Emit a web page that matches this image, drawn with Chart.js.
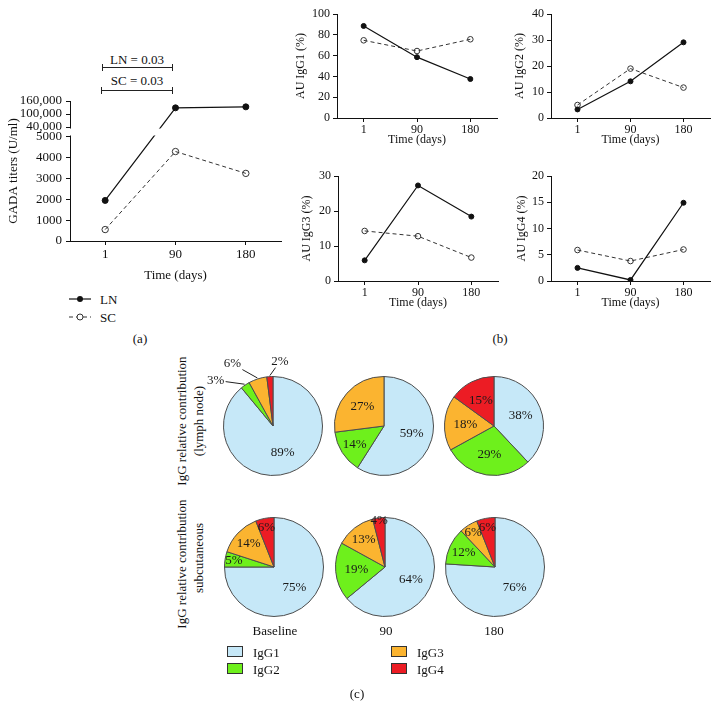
<!DOCTYPE html>
<html lang="en">
<head>
  <meta charset="UTF-8" />
  <title>GADA titers and IgG subclasses</title>
  <script src="https://cdn.jsdelivr.net/npm/chart.js"></script>
  <style>
    * { box-sizing: border-box; }
    body { margin: 0; background: #fff; font-family: "Liberation Serif", "Times New Roman", serif; color: #111; }
    #page { position: relative; width: 718px; height: 720px; overflow: hidden; background: #fff; }
    canvas { position: absolute; }
    .t { position: absolute; transform: translate(-50%, -50%); white-space: nowrap; font-size: 13px; line-height: 1; }
    .l { position: absolute; transform: translateY(-50%); white-space: nowrap; font-size: 13px; line-height: 1; }
    .v { position: absolute; transform: translate(-50%, -50%) rotate(-90deg); white-space: nowrap; font-size: 13px; line-height: 1; }
    .bar { position: absolute; height: 0; border-top: 1px solid #222; }
    .bar::before, .bar::after { content: ""; position: absolute; top: -4px; height: 7px; border-left: 1px solid #222; }
    .bar::before { left: 0; }
    .bar::after { right: 0; }
    .sq { position: absolute; width: 16px; height: 11px; border: 1px solid #333; }
  </style>
</head>
<body>
<div id="page">
  <!-- (a) -->
  <div class="t" style="left:137px; top:59px">LN = 0.03</div>
  <div class="bar" style="left:102px; top:67px; width:71px"></div>
  <div class="t" style="left:137px; top:80px">SC = 0.03</div>
  <div class="bar" style="left:101px; top:90px; width:72px"></div>
  <canvas id="gada"></canvas>
  <svg style="position:absolute; left:66px; top:290px" width="30" height="34">
    <line x1="3" y1="9" x2="25" y2="9" stroke="#111" stroke-width="1.2" />
    <circle cx="14" cy="9" r="3" fill="#111" />
    <line x1="3" y1="27" x2="25" y2="27" stroke="#333" stroke-width="1" stroke-dasharray="4 3" />
    <circle cx="14" cy="27" r="3" fill="#fff" stroke="#333" stroke-width="1" />
  </svg>
  <div class="l" style="left:100px; top:299px">LN</div>
  <div class="l" style="left:100px; top:317px">SC</div>
  <div class="t" style="left:140px; top:338px">(a)</div>

  <!-- (b) -->
  <canvas id="igg1"></canvas>
  <canvas id="igg2"></canvas>
  <canvas id="igg3"></canvas>
  <canvas id="igg4"></canvas>
  <div class="t" style="left:500px; top:338px">(b)</div>

  <!-- (c) -->
  <div class="v" style="left:181px; top:421px">IgG relative contribution</div>
  <div class="v" style="left:198px; top:421px">(lymph node)</div>
  <div class="v" style="left:181px; top:564px">IgG relative contribution</div>
  <div class="v" style="left:198px; top:558px">subcutaneous</div>
  <canvas id="pLN0"></canvas>
  <canvas id="pLN1"></canvas>
  <canvas id="pLN2"></canvas>
  <canvas id="pSC0"></canvas>
  <canvas id="pSC1"></canvas>
  <canvas id="pSC2"></canvas>
  <div class="t" style="left:275px; top:630px">Baseline</div>
  <div class="t" style="left:386px; top:630px">90</div>
  <div class="t" style="left:494px; top:630px">180</div>
  <div class="sq" style="left:227px; top:646px; background:#c6e8f8"></div>
  <div class="l" style="left:253px; top:652px">IgG1</div>
  <div class="sq" style="left:227px; top:663px; background:#6ef01c"></div>
  <div class="l" style="left:253px; top:669px">IgG2</div>
  <div class="sq" style="left:391px; top:646px; background:#fbb430"></div>
  <div class="l" style="left:417px; top:652px">IgG3</div>
  <div class="sq" style="left:391px; top:663px; background:#ec1c24"></div>
  <div class="l" style="left:417px; top:669px">IgG4</div>
  <div class="t" style="left:357px; top:693px">(c)</div>
</div>

<script>
  // ---- data ----
  const days = ['1', '90', '180'];

  const gadaTicks = [0, 1000, 2000, 3000, 4000, 5000, 40000, 100000, 160000];
  const gadaTickLabels = ['0', '1000', '2000', '3000', '4000', '5000', '40,000', '100,000', '160,000'];
  const gadaLN = [1950, 128500, 133000];
  const gadaSC = [550, 4300, 3250];

  const igg1LN = [88.5, 58.5, 37.5];
  const igg1SC = [74.7, 64.4, 75.7];
  const igg2LN = [3.3, 14.1, 29.1];
  const igg2SC = [5, 19, 11.7];
  const igg3LN = [5.9, 27.3, 18.4];
  const igg3SC = [14.3, 12.8, 6.7];
  const igg4LN = [2.5, 0.2, 14.9];
  const igg4SC = [5.9, 3.8, 6];

  const subclasses = ['IgG1', 'IgG2', 'IgG3', 'IgG4'];
  const pieLNBaseline = [89, 3, 6, 2];
  const pieLN90 = [59, 14, 27, 0];
  const pieLN180 = [38, 29, 18, 15];
  const pieSCBaseline = [75, 5, 14, 6];
  const pieSC90 = [64, 19, 13, 4];
  const pieSC180 = [76, 12, 6, 6];

  // ---- style ----
  const serif = '"Liberation Serif", "Times New Roman", serif';
  const pieColors = ['#c6e8f8', '#6ef01c', '#fbb430', '#ec1c24'];
  Chart.defaults.font.family = serif;
  Chart.defaults.color = '#111';

  // y axis with a break between 5000 and 40,000
  const dLow = 0.743, dHigh = 0.814;
  function breakDecimal(v) {
    if (v <= 5000) return v / 5000 * dLow;
    if (v >= 40000) return dHigh + (v - 40000) / 120000 * (1 - dHigh);
    return dLow + (v - 5000) / 35000 * (dHigh - dLow);
  }
  function breakValue(d) {
    if (d <= dLow) return d / dLow * 5000;
    if (d >= dHigh) return 40000 + (d - dHigh) / (1 - dHigh) * 120000;
    return 5000 + (d - dLow) / (dHigh - dLow) * 35000;
  }
  class BrokenScale extends Chart.LinearScale {
    buildTicks() {
      this.start = this.min;
      this.end = this.max;
      return gadaTicks.map(v => ({ value: v }));
    }
    getPixelForValue(value) { return this.getPixelForDecimal(breakDecimal(value)); }
    getValueForPixel(pixel) { return breakValue(this.getDecimalForPixel(pixel)); }
  }
  BrokenScale.id = 'broken';
  Chart.register(BrokenScale);

  const axisBreak = {
    id: 'axisBreak',
    afterDraw(chart) {
      const y = chart.scales.y, a = chart.chartArea, ctx = chart.ctx;
      const top = y.getPixelForValue(40000) + 1.5;
      const bottom = y.getPixelForValue(5000) - 1.5;
      ctx.save();
      ctx.fillStyle = '#fff';
      ctx.fillRect(a.left - 1.5, top, a.right - a.left + 3, bottom - top);
      ctx.restore();
    }
  };

  const fixWidth = w => s => { s.width = w; s.paddingTop = s.paddingBottom = s.paddingLeft = s.paddingRight = 0; };
  const fixHeight = h => s => { s.height = h; s.paddingTop = s.paddingBottom = s.paddingLeft = s.paddingRight = 0; };

  function place(id, area, axisW, axisH, padTop, padRight) {
    const c = document.getElementById(id);
    c.width = area[2] - area[0] + axisW + padRight;
    c.height = area[3] - area[1] + padTop + axisH;
    c.style.left = (area[0] - axisW) + 'px';
    c.style.top = (area[1] - padTop) + 'px';
    return c;
  }

  function axisStyle(size, pad) {
    return {
      grid: { drawOnChartArea: false, drawTicks: true, tickLength: 4, color: '#111', lineWidth: 1 },
      border: { display: true, color: '#111', width: 1 },
      ticks: { color: '#111', font: { family: serif, size }, padding: pad, autoSkip: false, maxRotation: 0 }
    };
  }

  function lnSet(data, r) {
    return { label: 'LN', data, borderColor: '#111', borderWidth: 1.2, tension: 0,
      pointRadius: r, pointBackgroundColor: '#111', pointBorderColor: '#111', pointBorderWidth: 1 };
  }
  function scSet(data, r) {
    return { label: 'SC', data, borderColor: '#333', borderWidth: 1, borderDash: [4, 3], tension: 0,
      pointRadius: r, pointBackgroundColor: 'rgba(255,255,255,0)', pointBorderColor: '#333', pointBorderWidth: 1 };
  }

  // ---- (a) GADA ----
  {
    const canvas = place('gada', [70, 101, 281, 241], 70, 42, 12, 8);
    const x = axisStyle(13, 2), y = axisStyle(13, 4);
    new Chart(canvas, {
      type: 'line',
      data: { labels: days, datasets: [lnSet(gadaLN, 3), scSet(gadaSC, 3.2)] },
      options: {
        responsive: false, animation: false, events: [],
        layout: { padding: { left: 0, top: 12, right: 8, bottom: 0 } },
        plugins: { legend: { display: false }, tooltip: { enabled: false } },
        scales: {
          x: { type: 'category', offset: true, ...x, afterFit: fixHeight(42),
            title: { display: true, text: 'Time (days)', font: { family: serif, size: 13 }, padding: { top: 0, bottom: 0 } } },
          y: { type: 'broken', min: 0, max: 160000, ...y,
            ticks: { ...y.ticks, callback: (v, i) => gadaTickLabels[i] },
            afterFit: fixWidth(70),
            title: { display: true, text: 'GADA titers (U/ml)', font: { family: serif, size: 13 }, padding: { top: 6, bottom: 0 } } }
        }
      },
      plugins: [axisBreak]
    });
  }

  // ---- (b) IgG subclasses ----
  function subclassChart(id, area, axisW, yMax, step, ln, sc, yTitle) {
    const canvas = place(id, area, axisW, 29, 9, 6);
    const x = axisStyle(12, 1), y = axisStyle(12, 3);
    new Chart(canvas, {
      type: 'line',
      data: { labels: days, datasets: [lnSet(ln, 2.5), scSet(sc, 2.8)] },
      options: {
        responsive: false, animation: false, events: [],
        layout: { padding: { left: 0, top: 9, right: 6, bottom: 0 } },
        plugins: { legend: { display: false }, tooltip: { enabled: false } },
        scales: {
          x: { type: 'category', offset: true, ...x, afterFit: fixHeight(29),
            title: { display: true, text: 'Time (days)', font: { family: serif, size: 12 }, padding: { top: 0, bottom: 0 } } },
          y: { type: 'linear', min: 0, max: yMax, ...y,
            ticks: { ...y.ticks, stepSize: step },
            afterFit: fixWidth(axisW),
            title: { display: true, text: yTitle, font: { family: serif, size: 12 }, padding: { top: 4, bottom: 0 } } }
        }
      }
    });
  }
  subclassChart('igg1', [337, 14, 497, 118], 47, 100, 20, igg1LN, igg1SC, 'AU IgG1 (%)');
  subclassChart('igg2', [551, 14, 710, 118], 42, 40, 10, igg2LN, igg2SC, 'AU IgG2 (%)');
  subclassChart('igg3', [338, 176, 498, 281], 42, 30, 10, igg3LN, igg3SC, 'AU IgG3 (%)');
  subclassChart('igg4', [551, 176, 710, 281], 40, 20, 5, igg4LN, igg4SC, 'AU IgG4 (%)');

  // ---- (c) pies ----
  const pieLabels = {
    id: 'pieLabels',
    afterDatasetsDraw(chart, args, opts) {
      const ctx = chart.ctx;
      const meta = chart.getDatasetMeta(0);
      const data = chart.data.datasets[0].data;
      const callouts = opts.callouts || {};
      ctx.save();
      ctx.font = '13px ' + serif;
      ctx.fillStyle = '#1a1a1a';
      ctx.strokeStyle = '#222';
      ctx.lineWidth = 1;
      ctx.textAlign = 'center';
      ctx.textBaseline = 'middle';
      meta.data.forEach((arc, i) => {
        const v = data[i];
        if (!v) return;
        const mid = (arc.startAngle + arc.endAngle) / 2;
        const r = arc.outerRadius;
        const c = callouts[i];
        if (c) {
          const ex = arc.x + Math.cos(mid) * (r + 1), ey = arc.y + Math.sin(mid) * (r + 1);
          const tx = ex + c[0], ty = ey + c[1];
          const dx = ex - tx, dy = ey - ty;
          const k = Math.min(10 / Math.abs(dx || 1e-6), 6 / Math.abs(dy || 1e-6));
          ctx.beginPath();
          ctx.moveTo(tx + dx * k, ty + dy * k);
          ctx.lineTo(ex, ey);
          ctx.stroke();
          ctx.fillText(v + '%', tx, ty);
        } else {
          const f = v < 5 ? 0.95 : v <= 6 ? 0.82 : v < 15 ? 0.7 : 0.58;
          ctx.fillText(v + '%', arc.x + Math.cos(mid) * r * f, arc.y + Math.sin(mid) * r * f);
        }
      });
      ctx.restore();
    }
  };

  function pie(id, cx, cy, values, callouts) {
    const c = document.getElementById(id);
    c.width = 150; c.height = 150;
    c.style.left = (cx - 75) + 'px';
    c.style.top = (cy - 75) + 'px';
    new Chart(c, {
      type: 'pie',
      data: { labels: subclasses, datasets: [{ data: values, backgroundColor: pieColors, borderColor: '#4d4d4d', borderWidth: 1 }] },
      options: {
        responsive: false, animation: false, events: [],
        layout: { padding: 25 },
        plugins: { legend: { display: false }, tooltip: { enabled: false }, pieLabels: { callouts: callouts || {} } }
      },
      plugins: [pieLabels]
    });
  }
  pie('pLN0', 273, 426, pieLNBaseline, { 1: [-29, -4], 2: [-25, -14], 3: [10, -14] });
  pie('pLN1', 384, 426, pieLN90);
  pie('pLN2', 494, 426, pieLN180);
  pie('pSC0', 274, 567, pieSCBaseline);
  pie('pSC1', 385, 567, pieSC90);
  pie('pSC2', 495, 567, pieSC180);
</script>
</body>
</html>
